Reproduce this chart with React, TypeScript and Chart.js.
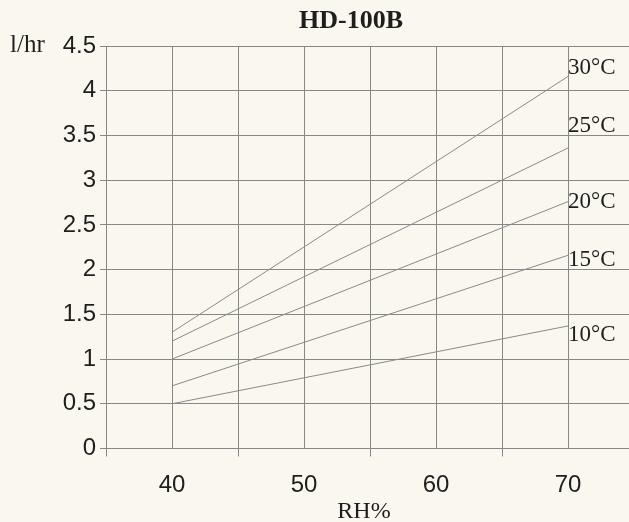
import React, { useEffect, useRef } from "react";
import { Chart, registerables } from "chart.js";

Chart.register(...registerables);

// ---- data ----
const chartTitle = "HD-100B";
const xAxisTitle = "RH%";
const yAxisTitle = "l/hr";
const rhPoints = [40, 70];
const series10 = [0.5, 1.37];
const series15 = [0.7, 2.16];
const series20 = [1.0, 2.76];
const series25 = [1.2, 3.36];
const series30 = [1.3, 4.16];
const seriesNames = ["10°C", "15°C", "20°C", "25°C", "30°C"];
const xLabeledTicks = [40, 50, 60, 70];
const yTickValues = [0, 0.5, 1, 1.5, 2, 2.5, 3, 3.5, 4, 4.5];
const yTickLabels = ["0", "0.5", "1", "1.5", "2", "2.5", "3", "3.5", "4", "4.5"];

// ---- style ----
const BG = "#faf7ee";
const GRID = "#878787";
const LINE = "#8a8a8a";
const TEXT = "#1e1e1e";
const labelOffsetsPx = [9, 5, 0, -22, -8];

const allSeries = [series10, series15, series20, series25, series30];

export default function App() {
  const canvasRef = useRef<HTMLCanvasElement | null>(null);

  useEffect(() => {
    if (!canvasRef.current) return;

    const textPlugin = {
      id: "textPlugin",
      beforeDraw(chart: any) {
        const { ctx, width, height } = chart;
        ctx.save();
        ctx.fillStyle = BG;
        ctx.fillRect(0, 0, width, height);
        ctx.restore();
      },
      afterDraw(chart: any) {
        const { ctx } = chart;
        const xs = chart.scales.x;
        const ys = chart.scales.y;
        ctx.save();
        ctx.fillStyle = TEXT;
        ctx.textBaseline = "middle";
        ctx.textAlign = "center";
        ctx.font = 'bold 26px "Liberation Serif"';
        ctx.fillText(chartTitle, 351, 21);
        ctx.font = '24px "Liberation Serif"';
        ctx.fillText(xAxisTitle, 364, 512);
        ctx.textAlign = "left";
        ctx.font = '25px "Liberation Serif"';
        ctx.fillText(yAxisTitle, 10, ys.getPixelForValue(4.5) - 1);
        ctx.font = '23px "Liberation Serif"';
        allSeries.forEach((s, i) => {
          const last = s.length - 1;
          const px = xs.getPixelForValue(rhPoints[last]);
          const py = ys.getPixelForValue(s[last]);
          ctx.fillText(seriesNames[i], px, py + labelOffsetsPx[i]);
        });
        ctx.restore();
      },
    };

    const chart = new Chart(canvasRef.current, {
      type: "line",
      data: {
        datasets: allSeries.map((s, i) => ({
          label: seriesNames[i],
          data: s.map((v, j) => ({ x: rhPoints[j], y: v })),
          borderColor: LINE,
          borderWidth: 1,
          pointRadius: 0,
          fill: false,
          tension: 0,
        })),
      },
      options: {
        animation: false,
        responsive: true,
        maintainAspectRatio: false,
        layout: { padding: { left: 0, top: 46, right: 0, bottom: 0 } },
        plugins: {
          legend: { display: false },
          tooltip: { enabled: false },
          title: { display: false },
        },
        events: [],
        scales: {
          x: {
            type: "linear",
            min: 35,
            max: 75,
            afterFit(scale: any) {
              scale.height = 73.5;
            },
            ticks: {
              stepSize: 5,
              autoSkip: false,
              maxRotation: 0,
              padding: 14,
              color: TEXT,
              font: { family: '"Liberation Sans"', size: 24 },
              callback: (v: any) => (xLabeledTicks.includes(Number(v)) ? String(v) : ""),
            },
            grid: {
              color: GRID,
              lineWidth: 1,
              tickLength: 8,
              tickColor: (ctx: any) =>
                ctx.tick && xLabeledTicks.includes(ctx.tick.value) ? "rgba(0,0,0,0)" : GRID,
            },
            border: { color: GRID, width: 1 },
          },
          y: {
            type: "linear",
            min: 0,
            max: 4.5,
            afterFit(scale: any) {
              scale.width = 106;
            },
            afterBuildTicks(scale: any) {
              scale.ticks = yTickValues.map((v) => ({ value: v }));
            },
            ticks: {
              padding: 4,
              color: TEXT,
              font: { family: '"Liberation Sans"', size: 24 },
              callback: (v: any) => {
                const idx = yTickValues.indexOf(Number(v));
                return idx >= 0 ? yTickLabels[idx] : "";
              },
            },
            grid: { color: GRID, lineWidth: 1, tickLength: 6, tickColor: GRID },
            border: { color: GRID, width: 1 },
          },
        },
      },
      plugins: [textPlugin],
    });

    return () => chart.destroy();
  }, []);

  return (
    <div
      style={{
        position: "fixed",
        left: 0,
        top: 0,
        width: 629,
        height: 522,
        overflow: "hidden",
        background: BG,
      }}
    >
      <div style={{ position: "relative", width: 648, height: 522 }}>
        <canvas ref={canvasRef} />
      </div>
    </div>
  );
}
